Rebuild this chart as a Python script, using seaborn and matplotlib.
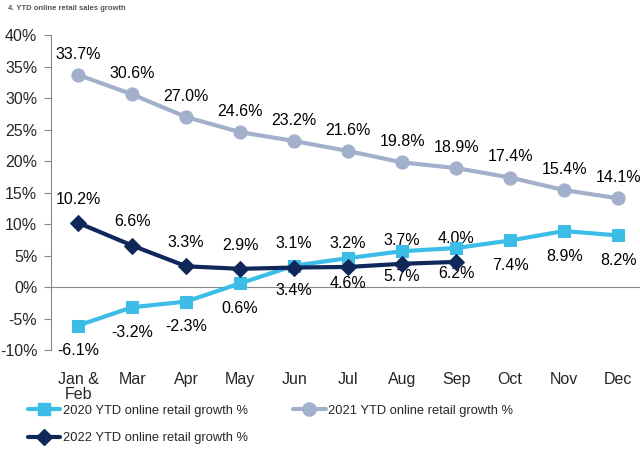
import matplotlib
matplotlib.use("Agg")
import matplotlib.pyplot as plt
import seaborn as sns
import numpy as np
from matplotlib.lines import Line2D
from matplotlib.ticker import FixedLocator

sns.set_style("white")
plt.rcParams['font.family'] = ['Liberation Sans', 'DejaVu Sans']

months = ["Jan &\nFeb", "Mar", "Apr", "May", "Jun", "Jul", "Aug", "Sep", "Oct", "Nov", "Dec"]
growth_2020 = [-6.1, -3.2, -2.3, 0.6, 3.4, 4.6, 5.7, 6.2, 7.4, 8.9, 8.2]
growth_2021 = [33.7, 30.6, 27.0, 24.6, 23.2, 21.6, 19.8, 18.9, 17.4, 15.4, 14.1]
growth_2022 = [10.2, 6.6, 3.3, 2.9, 3.1, 3.2, 3.7, 4.0]
yticks = [-10, -5, 0, 5, 10, 15, 20, 25, 30, 35, 40]

c2020 = "#3BBDE8"
c2021 = "#A3B0CC"
c2022 = "#10275A"

fig = plt.figure(figsize=(6.4, 4.57), dpi=100)
ax = fig.add_axes([0.08, 0.234, 0.928, 0.689])

x20 = np.arange(len(growth_2020))
x21 = np.arange(len(growth_2021))
x22 = np.arange(len(growth_2022))

sns.lineplot(x=x21, y=growth_2021, ax=ax, color=c2021, lw=3, marker="o", markersize=9.5,
             markeredgecolor=c2021, sort=False, zorder=3)
sns.lineplot(x=x20, y=growth_2020, ax=ax, color=c2020, lw=3, marker="s", markersize=8,
             markeredgecolor=c2020, sort=False, zorder=4)
sns.lineplot(x=x22, y=growth_2022, ax=ax, color=c2022, lw=3, marker="D", markersize=8,
             markeredgecolor=c2022, sort=False, zorder=5)

fs = 11.5
for xi, v in zip(x21, growth_2021):
    ax.annotate(f"{v:.1f}%", (xi, v), xytext=(0, 15), textcoords="offset points",
                ha="center", va="center", fontsize=fs, color="black")
for xi, v in zip(x22, growth_2022):
    ax.annotate(f"{v:.1f}%", (xi, v), xytext=(0, 17), textcoords="offset points",
                ha="center", va="center", fontsize=fs, color="black")
for xi, v in zip(x20, growth_2020):
    ax.annotate(f"{v:.1f}%", (xi, v), xytext=(0, -18), textcoords="offset points",
                ha="center", va="center", fontsize=fs, color="black")

ax.set_ylim(-10, 40)
ax.set_xlim(-0.5, len(months) - 0.5)
ax.set_yticks(yticks)
ax.set_yticklabels([f"{t}%" for t in yticks], fontsize=fs)

ax.spines["top"].set_visible(False)
ax.spines["right"].set_visible(False)
ax.spines["left"].set_color("#888888")
ax.spines["bottom"].set_color("#888888")
ax.spines["bottom"].set_position(("data", 0))
ax.spines["bottom"].set_zorder(1)

ax.set_xticks(np.arange(len(months)))
ax.set_xticklabels(months, fontsize=fs, va="top", linespacing=1.0)
ax.xaxis.set_minor_locator(FixedLocator(np.arange(-0.5, len(months), 1.0)))
ax.tick_params(axis="x", which="major", length=0, pad=61)
ax.tick_params(axis="x", which="minor", length=5, color="#888888", direction="out", width=1)
ax.tick_params(axis="y", length=5, color="#888888", direction="out", left=True, pad=5)
ax.set_xlabel("")
ax.set_ylabel("")

fig.text(0.012, 0.982, "4. YTD online retail sales growth", fontsize=5.5, color="#555555",
         fontweight="bold", va="center", ha="left")

handles = [
    Line2D([], [], color=c2020, lw=3, marker="s", markersize=8, label="2020 YTD online retail growth %"),
    Line2D([], [], color=c2022, lw=3, marker="D", markersize=8, label="2022 YTD online retail growth %"),
    Line2D([], [], color=c2021, lw=3, marker="o", markersize=9.5, label="2021 YTD online retail growth %"),
]
leg = fig.legend(handles=handles, loc="upper left", bbox_to_anchor=(0.044, 0.114), ncol=2,
                 frameon=False, fontsize=9.3,
                 handlelength=2.5, handletextpad=0.2,
                 columnspacing=3.5, labelspacing=1.2, borderaxespad=0, borderpad=0)

fig.savefig("out.png", dpi=100)
